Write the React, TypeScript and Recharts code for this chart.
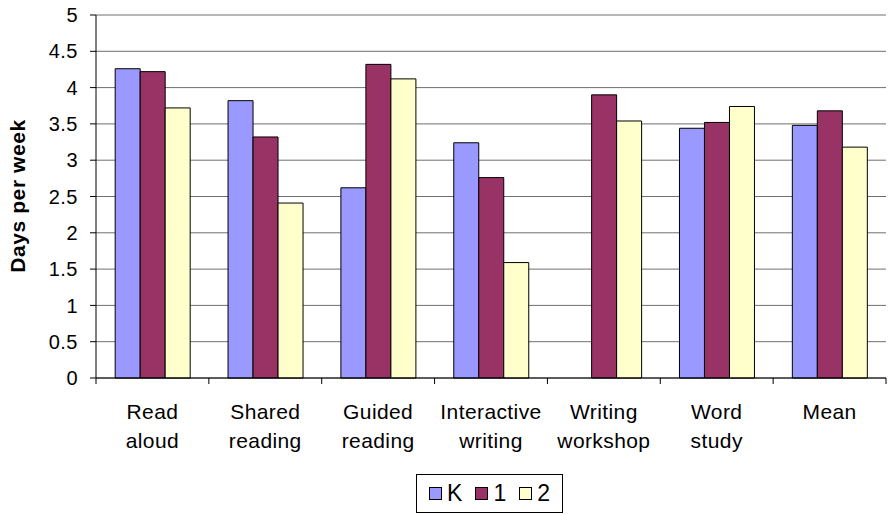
import { Bar, BarChart, CartesianGrid, Label, Legend, XAxis, YAxis } from 'recharts';

const categories = [
  'Read aloud',
  'Shared reading',
  'Guided reading',
  'Interactive writing',
  'Writing workshop',
  'Word study',
  'Mean',
];
const kValues = [4.26, 3.82, 2.62, 3.24, null, 3.44, 3.48];
const firstValues = [4.22, 3.32, 4.32, 2.76, 3.9, 3.52, 3.68];
const secondValues = [3.72, 2.41, 4.12, 1.59, 3.54, 3.74, 3.18];
const yTicks = [0, 0.5, 1, 1.5, 2, 2.5, 3, 3.5, 4, 4.5, 5];

const series = [
  { key: 'K', color: '#9999FF' },
  { key: '1', color: '#993366' },
  { key: '2', color: '#FFFFCC' },
];

const data = categories.map((name, i) => ({
  name,
  K: kValues[i],
  '1': firstValues[i],
  '2': secondValues[i],
}));

const FONT = '"Liberation Sans", Arial, sans-serif';
const WIDTH = 888;
const HEIGHT = 515;
const Y_AXIS_W = 96;
const RIGHT = 2;
const BAND = (WIDTH - Y_AXIS_W - RIGHT) / categories.length;

function CategoryTick(props: any) {
  const { x, y, payload, index } = props;
  const lines = String(payload.value).split(' ');
  const isLast = index === categories.length - 1;
  return (
    <g>
      <line x1={x - BAND / 2} x2={x - BAND / 2} y1={y} y2={y + 6} stroke="#000" />
      {isLast && <line x1={x + BAND / 2} x2={x + BAND / 2} y1={y} y2={y + 6} stroke="#000" />}
      <text
        x={x}
        y={y + 41}
        textAnchor="middle"
        fontSize={21}
        letterSpacing={0.4}
        fontFamily={FONT}
        fill="#000"
      >
        {lines.map((line, i) => (
          <tspan key={i} x={x} dy={i === 0 ? 0 : 29}>
            {line}
          </tspan>
        ))}
      </text>
    </g>
  );
}

function LegendBox() {
  return (
    <div
      style={{
        border: '1px solid #000',
        width: 147,
        height: 39,
        boxSizing: 'border-box',
        display: 'flex',
        alignItems: 'center',
        justifyContent: 'center',
        gap: 13,
        fontFamily: FONT,
        fontSize: 23,
        background: '#fff',
      }}
    >
      {series.map((s) => (
        <span key={s.key} style={{ display: 'flex', alignItems: 'center' }}>
          <span
            style={{
              display: 'inline-block',
              width: 11,
              height: 11,
              background: s.color,
              border: '1px solid #000',
              marginRight: 5,
            }}
          />
          {s.key}
        </span>
      ))}
    </div>
  );
}

export default function App() {
  return (
    <div style={{ position: 'absolute', left: 0, top: 0, background: '#fff' }}>
      <BarChart
        width={WIDTH}
        height={HEIGHT}
        data={data}
        margin={{ top: 15, right: RIGHT, left: 0, bottom: 0 }}
        barCategoryGap="17%"
        barGap={0}
      >
        <CartesianGrid vertical={false} stroke="#6f6f6f" />
        <XAxis
          dataKey="name"
          height={137}
          interval={0}
          tickSize={0}
          tickMargin={0}
          tickLine={false}
          axisLine={{ stroke: '#000' }}
          tick={<CategoryTick />}
        />
        <YAxis
          width={Y_AXIS_W}
          domain={[0, 5]}
          ticks={yTicks}
          interval={0}
          tickSize={6}
          tickMargin={12}
          axisLine={{ stroke: '#000' }}
          tickLine={{ stroke: '#000' }}
          tick={{ fill: '#000', fontSize: 20, fontFamily: FONT, letterSpacing: 0.5 }}
        >
          <Label
            content={() => (
              <text
                x={25}
                y={196}
                transform="rotate(-90 25 196)"
                textAnchor="middle"
                fontSize={21}
                fontWeight="bold"
                letterSpacing={0.6}
                fontFamily={FONT}
                fill="#000"
              >
                Days per week
              </text>
            )}
          />
        </YAxis>
        <YAxis
          yAxisId="right"
          orientation="right"
          width={0}
          domain={[0, 5]}
          tick={false}
          tickLine={false}
          axisLine={{ stroke: '#808080' }}
        />
        <Legend
          layout="horizontal"
          verticalAlign="middle"
          align="center"
          wrapperStyle={{ left: 416, top: 474, width: 'auto' }}
          content={() => <LegendBox />}
        />
        {series.map((s) => (
          <Bar
            key={s.key}
            dataKey={s.key}
            fill={s.color}
            stroke="#000"
            strokeWidth={1}
            isAnimationActive={false}
          />
        ))}
      </BarChart>
    </div>
  );
}
